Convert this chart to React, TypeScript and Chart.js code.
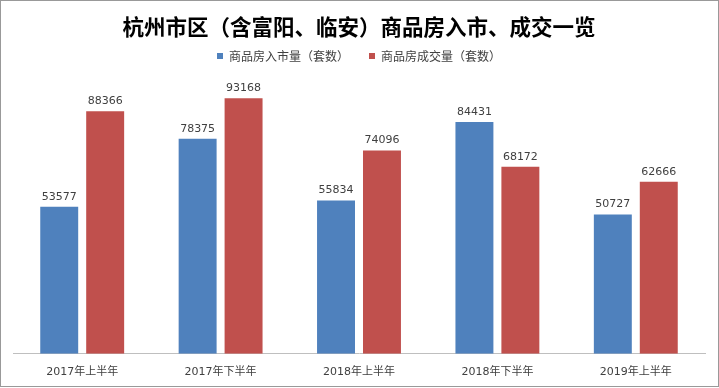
import React, { useEffect, useRef } from "react";
import { Chart, registerables } from "chart.js";

Chart.register(...registerables);

const categories = ["2017年上半年", "2017年下半年", "2018年上半年", "2018年下半年", "2019年上半年"];
const supplyValues = [53577, 78375, 55834, 84431, 50727];
const dealValues = [88366, 93168, 74096, 68172, 62666];
const seriesNames = ["商品房入市量（套数）", "商品房成交量（套数）"];
const titleText = "杭州市区（含富阳、临安）商品房入市、成交一览";

const FONT = "'DejaVu Sans', 'Noto Sans CJK SC', sans-serif";
const CJK = "'Noto Sans CJK SC', sans-serif";

const valueLabels = {
  id: "valueLabels",
  afterDatasetsDraw(chart: any) {
    const ctx = chart.ctx;
    ctx.save();
    ctx.font = `11px ${FONT}`;
    ctx.fillStyle = "#404040";
    ctx.textAlign = "center";
    ctx.textBaseline = "middle";
    chart.data.datasets.forEach((ds: any, i: number) => {
      const meta = chart.getDatasetMeta(i);
      meta.data.forEach((el: any, j: number) => {
        ctx.fillText(String(ds.data[j]), el.x, el.y - 10);
      });
    });
    ctx.restore();
  },
};

const frame = {
  id: "frame",
  afterDraw(chart: any) {
    const ctx = chart.ctx;
    ctx.save();
    ctx.strokeStyle = "#999999";
    ctx.lineWidth = 1;
    ctx.strokeRect(0.5, 0.5, 718, 386);
    ctx.restore();
  },
};

export default function App() {
  const ref = useRef<HTMLCanvasElement>(null);
  useEffect(() => {
    document.body.style.margin = "0";
    const chart = new Chart(ref.current as HTMLCanvasElement, {
      type: "bar",
      data: {
        labels: categories,
        datasets: [
          {
            label: seriesNames[0],
            data: supplyValues,
            backgroundColor: "#4F81BD",
            categoryPercentage: 0.664,
            barPercentage: 0.826,
          },
          {
            label: seriesNames[1],
            data: dealValues,
            backgroundColor: "#C0504D",
            categoryPercentage: 0.664,
            barPercentage: 0.826,
          },
        ],
      },
      options: {
        animation: false,
        responsive: false,
        maintainAspectRatio: false,
        layout: { padding: { left: 13, right: 14, top: 0, bottom: -3 } },
        plugins: {
          title: {
            display: true,
            text: titleText,
            color: "#000000",
            font: { family: CJK, size: 21.5, weight: "bold", lineHeight: 1.2 },
            padding: { top: 13.5, bottom: -9.3 },
          },
          subtitle: {
            display: true,
            text: " ",
            weight: 500,
            font: { size: 1, lineHeight: 1 },
            padding: { top: 6.4, bottom: 0 },
          } as any,
          legend: {
            display: true,
            position: "top",
            labels: {
              boxWidth: 6,
              boxHeight: 6,
              color: "#404040",
              padding: 20,
              font: { family: CJK, size: 12 },
            },
          },
          tooltip: { enabled: false },
        },
        scales: {
          x: {
            grid: { display: false, drawTicks: false },
            border: { display: true, color: "#BFBFBF" },
            ticks: { color: "#404040", padding: 12, font: { family: FONT, size: 11 } },
          },
          y: {
            display: false,
            min: 0,
            max: 100000,
          },
        },
      },
      plugins: [valueLabels, frame],
    });
    return () => chart.destroy();
  }, []);
  return (
    <div style={{ width: 719, height: 388 }}>
      <canvas ref={ref} width={719} height={388} style={{ display: "block" }} />
    </div>
  );
}
